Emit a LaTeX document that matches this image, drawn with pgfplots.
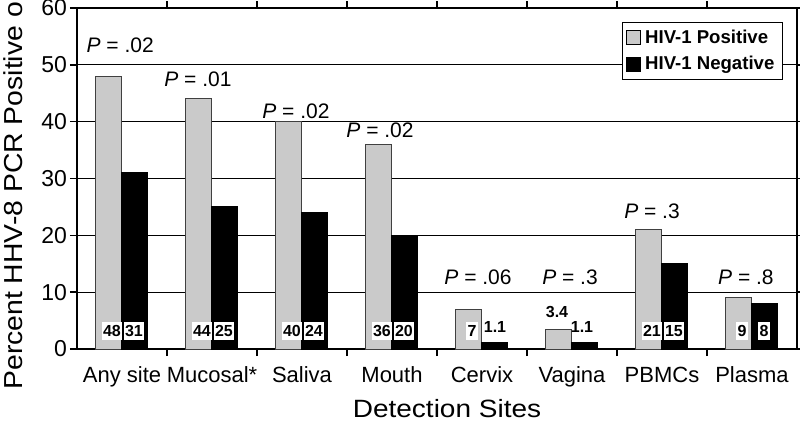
\documentclass[border=0pt]{standalone}
\usepackage{fontspec}
\setmainfont{Liberation Sans}
\usepackage{pgfplots}
\pgfplotsset{compat=1.18}
\definecolor{barg}{RGB}{202,202,202}
\tikzset{bx/.style={fill=white}}
\begin{document}
\begin{tikzpicture}
\useasboundingbox (-38.5pt,-35.5pt) rectangle (361.5pt,174.5pt);
\begin{axis}[
  scale only axis,
  width=360pt, height=170.5pt,
  xmin=-0.5, xmax=7.5, ymin=0, ymax=60,
  ytick={0,10,...,60},
  xtick={0,...,7},
  xticklabels={Any site,Mucosal*,Saliva,Mouth,Cervix,Vagina,PBMCs,Plasma},
  minor xtick={0.5,1.5,...,6.5},
  major x tick style={draw=none},
  tick align=outside,
  major tick length=3.5pt,
  minor tick length=3.5pt,
  tick style={black, line width=0.8pt},
  axis line style={line width=0.8pt},
  ymajorgrids,
  grid style={black, line width=0.55pt},
  /pgf/number format/assume math mode=true,
  yticklabel style={font=\fontsize{11.5}{13}\selectfont, xshift=2pt},
  xticklabel style={font=\fontsize{11}{13}\selectfont, anchor=base, yshift=-13pt},
  ybar, bar width=13pt,
  legend style={at={(1,1)}, anchor=north east, xshift=-7pt, yshift=-7pt,
    draw=black, line width=0.6pt, fill=white,
    font=\bfseries\fontsize{9.3}{10}\selectfont,
    inner xsep=2pt, inner ysep=1.5pt, row sep=0.8pt},
  legend cell align=left,
  legend image code/.code={\draw[#1, draw=black, line width=0.4pt] (0pt,-3.5pt) rectangle (7pt,3.5pt);},
]
\addplot[fill=barg, draw=black!75, line width=0.5pt, bar shift=-6.5pt] coordinates {
 (0,48) (1,44) (2,40) (3,36) (4,7) (5,3.4) (6,21) (7,9)};
\addplot[fill=black, draw=black, line width=0.5pt, bar shift=6.5pt] coordinates {
 (0,31) (1,25) (2,24) (3,20) (4,1.1) (5,1.1) (6,15) (7,8)};
\legend{HIV-1 Positive, HIV-1 Negative}
% P values
\begin{scope}[every node/.style={font=\fontsize{10.5}{12}\selectfont, anchor=base, inner sep=0pt}]
\node at (axis cs:-0.02,52.1) {\textit{P} = .02};
\node at (axis cs:0.844,46.2) {\textit{P} = .01};
\node at (axis cs:1.933,40.6) {\textit{P} = .02};
\node at (axis cs:2.867,37.3) {\textit{P} = .02};
\node at (axis cs:3.956,11.3) {\textit{P} = .06};
\node at (axis cs:4.978,11.3) {\textit{P} = .3};
\node at (axis cs:5.889,23.0) {\textit{P} = .3};
\node at (axis cs:6.933,11.3) {\textit{P} = .8};
\end{scope}
% value labels
\begin{scope}[every node/.style={font=\bfseries\fontsize{8}{9}\selectfont, inner xsep=0.7pt, inner ysep=1.6pt}]
\node[bx,xshift=-5pt] at (axis cs:0,3.2) {48};
\node[bx,xshift=6pt] at (axis cs:0,3.2) {31};
\node[bx,xshift=-5pt] at (axis cs:1,3.2) {44};
\node[bx,xshift=6pt] at (axis cs:1,3.2) {25};
\node[bx,xshift=-5pt] at (axis cs:2,3.2) {40};
\node[bx,xshift=6pt] at (axis cs:2,3.2) {24};
\node[bx,xshift=-5pt] at (axis cs:3,3.2) {36};
\node[bx,xshift=6pt] at (axis cs:3,3.2) {20};
\node[bx,xshift=-5pt] at (axis cs:4,3.2) {7};
\node[xshift=6.5pt] at (axis cs:4,3.9) {1.1};
\node[xshift=-7.5pt] at (axis cs:5,6.5) {3.4};
\node[xshift=5pt] at (axis cs:5,3.9) {1.1};
\node[bx,xshift=-5pt] at (axis cs:6,3.2) {21};
\node[bx,xshift=6pt] at (axis cs:6,3.2) {15};
\node[bx,xshift=-5pt] at (axis cs:7,3.2) {9};
\node[bx,xshift=6pt] at (axis cs:7,3.2) {8};
\end{scope}
\end{axis}
\node[rotate=90, anchor=base west, inner sep=0pt, font=\fontsize{13}{15}\selectfont]
  at (-27pt,-20.5pt) {\scalebox{1.09}[1]{Percent HHV-8 PCR Positive o}};
\node[anchor=base, inner sep=0pt, font=\fontsize{12.5}{14}\selectfont]
  at (185pt,-34pt) {\scalebox{1.12}[1]{Detection Sites}};
\end{tikzpicture}
\end{document}
